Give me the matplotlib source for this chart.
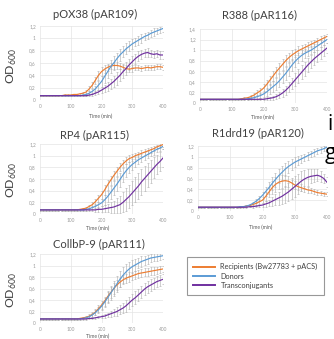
import matplotlib
matplotlib.use("Agg")
import matplotlib.pyplot as plt
from matplotlib.lines import Line2D

# ---------------- data ----------------
TIME_MIN = list(range(0, 401, 10))
X_TICKS = [0, 100, 200, 300, 400]

PANEL_TITLES = ["pOX38 (pAR109)", "R388 (pAR116)", "RP4 (pAR115)",
                "R1drd19 (pAR120)", "CollbP-9 (pAR111)"]
Y_MAX = [1.2, 1.4, 1.2, 1.2, 1.2]
SERIES_NAMES = ["Recipients (Bw27783 + pACS)", "Donors", "Transconjugants"]

# pOX38
p1_rec = [0.07, 0.07, 0.07, 0.07, 0.07, 0.07, 0.07, 0.07, 0.08, 0.08, 0.08,
          0.09, 0.09, 0.10, 0.11, 0.13, 0.18, 0.24, 0.32, 0.40, 0.46,
          0.50, 0.53, 0.55, 0.56, 0.56, 0.55, 0.53, 0.51, 0.50, 0.51,
          0.52, 0.52, 0.51, 0.52, 0.53, 0.52, 0.53, 0.54, 0.54, 0.53]
p1_don = [0.07, 0.07, 0.07, 0.07, 0.07, 0.07, 0.07, 0.07, 0.07, 0.07, 0.07,
          0.07, 0.07, 0.07, 0.08, 0.09, 0.11, 0.14, 0.18, 0.24, 0.30,
          0.38, 0.46, 0.54, 0.60, 0.67, 0.73, 0.78, 0.83, 0.87, 0.91,
          0.94, 0.97, 1.00, 1.03, 1.05, 1.08, 1.10, 1.12, 1.14, 1.16]
p1_trc = [0.07, 0.07, 0.07, 0.07, 0.07, 0.07, 0.07, 0.07, 0.07, 0.07, 0.07,
          0.07, 0.07, 0.07, 0.07, 0.07, 0.08, 0.09, 0.11, 0.13, 0.16,
          0.19, 0.22, 0.26, 0.30, 0.35, 0.40, 0.46, 0.51, 0.57, 0.62,
          0.67, 0.71, 0.74, 0.76, 0.77, 0.75, 0.74, 0.75, 0.73, 0.73]
p1_rec_err = [0.01, 0.01, 0.01, 0.01, 0.01, 0.01, 0.01, 0.01, 0.01, 0.01, 0.01,
              0.01, 0.01, 0.02, 0.02, 0.03, 0.04, 0.05, 0.06, 0.07, 0.07,
              0.06, 0.06, 0.05, 0.05, 0.05, 0.05, 0.05, 0.05, 0.05, 0.05,
              0.04, 0.04, 0.04, 0.04, 0.04, 0.04, 0.04, 0.04, 0.04, 0.04]
p1_don_err = [0.01, 0.01, 0.01, 0.01, 0.01, 0.01, 0.01, 0.01, 0.01, 0.01, 0.01,
              0.01, 0.01, 0.01, 0.02, 0.02, 0.03, 0.04, 0.05, 0.07, 0.09,
              0.10, 0.11, 0.11, 0.11, 0.10, 0.10, 0.09, 0.09, 0.08, 0.08,
              0.07, 0.07, 0.07, 0.06, 0.06, 0.06, 0.06, 0.05, 0.05, 0.05]
p1_trc_err = [0.01, 0.01, 0.01, 0.01, 0.01, 0.01, 0.01, 0.01, 0.01, 0.01, 0.01,
              0.01, 0.01, 0.01, 0.01, 0.01, 0.02, 0.02, 0.03, 0.04, 0.05,
              0.06, 0.07, 0.08, 0.09, 0.10, 0.10, 0.10, 0.10, 0.09, 0.09,
              0.08, 0.08, 0.07, 0.07, 0.07, 0.06, 0.06, 0.06, 0.06, 0.06]

# R388
p2_rec = [0.07, 0.07, 0.07, 0.07, 0.07, 0.07, 0.07, 0.07, 0.07, 0.07, 0.07,
          0.07, 0.07, 0.08, 0.09, 0.10, 0.12, 0.15, 0.19, 0.23, 0.28,
          0.35, 0.43, 0.51, 0.59, 0.66, 0.73, 0.80, 0.86, 0.91, 0.95,
          0.99, 1.02, 1.05, 1.08, 1.11, 1.14, 1.17, 1.20, 1.23, 1.26]
p2_don = [0.07, 0.07, 0.07, 0.07, 0.07, 0.07, 0.07, 0.07, 0.07, 0.07, 0.07,
          0.07, 0.07, 0.07, 0.07, 0.08, 0.09, 0.10, 0.12, 0.14, 0.17,
          0.21, 0.26, 0.31, 0.36, 0.42, 0.49, 0.56, 0.64, 0.72, 0.79,
          0.85, 0.90, 0.94, 0.97, 1.00, 1.04, 1.08, 1.12, 1.16, 1.20]
p2_trc = [0.07, 0.07, 0.07, 0.07, 0.07, 0.07, 0.07, 0.07, 0.07, 0.07, 0.07,
          0.07, 0.07, 0.07, 0.07, 0.07, 0.07, 0.07, 0.07, 0.07, 0.07,
          0.08, 0.09, 0.10, 0.12, 0.15, 0.19, 0.24, 0.30, 0.37, 0.44,
          0.51, 0.58, 0.65, 0.72, 0.78, 0.84, 0.89, 0.94, 0.99, 1.04]
p2_rec_err = [0.01, 0.01, 0.01, 0.01, 0.01, 0.01, 0.01, 0.01, 0.01, 0.01, 0.01,
              0.01, 0.01, 0.01, 0.02, 0.02, 0.03, 0.04, 0.05, 0.06, 0.07,
              0.08, 0.09, 0.10, 0.10, 0.10, 0.10, 0.10, 0.09, 0.09, 0.08,
              0.08, 0.07, 0.07, 0.07, 0.06, 0.06, 0.06, 0.06, 0.05, 0.05]
p2_don_err = [0.01, 0.01, 0.01, 0.01, 0.01, 0.01, 0.01, 0.01, 0.01, 0.01, 0.01,
              0.01, 0.01, 0.01, 0.01, 0.02, 0.02, 0.03, 0.04, 0.05, 0.06,
              0.08, 0.09, 0.10, 0.11, 0.12, 0.12, 0.12, 0.12, 0.11, 0.11,
              0.10, 0.10, 0.09, 0.09, 0.08, 0.08, 0.08, 0.07, 0.07, 0.07]
p2_trc_err = [0.01, 0.01, 0.01, 0.01, 0.01, 0.01, 0.01, 0.01, 0.01, 0.01, 0.01,
              0.01, 0.01, 0.01, 0.01, 0.01, 0.01, 0.01, 0.01, 0.02, 0.02,
              0.03, 0.03, 0.04, 0.05, 0.06, 0.07, 0.09, 0.10, 0.11, 0.12,
              0.13, 0.13, 0.13, 0.13, 0.12, 0.12, 0.11, 0.11, 0.10, 0.10]

# RP4
p3_rec = [0.07, 0.07, 0.07, 0.07, 0.07, 0.07, 0.07, 0.07, 0.07, 0.07, 0.07,
          0.07, 0.07, 0.08, 0.09, 0.10, 0.13, 0.16, 0.21, 0.27, 0.33,
          0.41, 0.50, 0.58, 0.66, 0.73, 0.80, 0.86, 0.91, 0.95, 0.97,
          1.00, 1.02, 1.04, 1.06, 1.08, 1.10, 1.12, 1.15, 1.17, 1.19]
p3_don = [0.07, 0.07, 0.07, 0.07, 0.07, 0.07, 0.07, 0.07, 0.07, 0.07, 0.07,
          0.07, 0.07, 0.07, 0.07, 0.08, 0.09, 0.11, 0.13, 0.16, 0.19,
          0.24, 0.30, 0.37, 0.44, 0.51, 0.59, 0.67, 0.74, 0.80, 0.85,
          0.89, 0.93, 0.96, 0.99, 1.02, 1.05, 1.08, 1.11, 1.13, 1.16]
p3_trc = [0.07, 0.07, 0.07, 0.07, 0.07, 0.07, 0.07, 0.07, 0.07, 0.07, 0.07,
          0.07, 0.07, 0.07, 0.07, 0.07, 0.07, 0.07, 0.07, 0.08, 0.08,
          0.09, 0.10, 0.11, 0.12, 0.14, 0.16, 0.20, 0.25, 0.30, 0.36,
          0.42, 0.48, 0.55, 0.61, 0.67, 0.73, 0.79, 0.85, 0.90, 0.96]
p3_rec_err = [0.01, 0.01, 0.01, 0.01, 0.01, 0.01, 0.01, 0.01, 0.01, 0.01, 0.01,
              0.01, 0.01, 0.01, 0.02, 0.02, 0.03, 0.04, 0.05, 0.06, 0.07,
              0.08, 0.08, 0.08, 0.08, 0.07, 0.07, 0.06, 0.06, 0.06, 0.06,
              0.05, 0.05, 0.05, 0.05, 0.05, 0.05, 0.04, 0.04, 0.04, 0.04]
p3_don_err = [0.01, 0.01, 0.01, 0.01, 0.01, 0.01, 0.01, 0.01, 0.01, 0.01, 0.01,
              0.01, 0.01, 0.01, 0.01, 0.02, 0.02, 0.03, 0.04, 0.05, 0.06,
              0.08, 0.10, 0.11, 0.12, 0.12, 0.12, 0.12, 0.11, 0.10, 0.09,
              0.08, 0.08, 0.07, 0.07, 0.06, 0.06, 0.06, 0.05, 0.05, 0.05]
p3_trc_err = [0.01, 0.01, 0.01, 0.01, 0.01, 0.01, 0.01, 0.01, 0.01, 0.01, 0.01,
              0.01, 0.01, 0.01, 0.01, 0.01, 0.02, 0.02, 0.03, 0.04, 0.05,
              0.06, 0.07, 0.09, 0.11, 0.13, 0.15, 0.17, 0.19, 0.20, 0.21,
              0.22, 0.22, 0.22, 0.21, 0.20, 0.19, 0.18, 0.17, 0.16, 0.15]

# R1drd19
p4_rec = [0.07, 0.07, 0.07, 0.07, 0.07, 0.07, 0.07, 0.07, 0.07, 0.07, 0.07,
          0.07, 0.07, 0.07, 0.08, 0.09, 0.10, 0.12, 0.14, 0.17, 0.20,
          0.27, 0.35, 0.43, 0.49, 0.53, 0.55, 0.56, 0.55, 0.52, 0.48,
          0.45, 0.43, 0.41, 0.39, 0.38, 0.36, 0.34, 0.33, 0.32, 0.31]
p4_don = [0.07, 0.07, 0.07, 0.07, 0.07, 0.07, 0.07, 0.07, 0.07, 0.07, 0.07,
          0.07, 0.07, 0.08, 0.08, 0.09, 0.11, 0.14, 0.18, 0.23, 0.29,
          0.36, 0.43, 0.51, 0.58, 0.65, 0.71, 0.77, 0.82, 0.86, 0.90,
          0.93, 0.96, 0.99, 1.02, 1.05, 1.08, 1.11, 1.13, 1.15, 1.18]
p4_trc = [0.07, 0.07, 0.07, 0.07, 0.07, 0.07, 0.07, 0.07, 0.07, 0.07, 0.07,
          0.07, 0.07, 0.07, 0.07, 0.07, 0.08, 0.08, 0.09, 0.10, 0.11,
          0.13, 0.15, 0.18, 0.21, 0.24, 0.27, 0.31, 0.35, 0.40, 0.45,
          0.50, 0.55, 0.59, 0.62, 0.64, 0.65, 0.66, 0.64, 0.60, 0.53]
p4_rec_err = [0.01, 0.01, 0.01, 0.01, 0.01, 0.01, 0.01, 0.01, 0.01, 0.01, 0.01,
              0.01, 0.01, 0.01, 0.01, 0.02, 0.02, 0.03, 0.04, 0.05, 0.06,
              0.08, 0.10, 0.12, 0.13, 0.13, 0.12, 0.11, 0.10, 0.09, 0.08,
              0.07, 0.06, 0.06, 0.05, 0.05, 0.05, 0.04, 0.04, 0.04, 0.04]
p4_don_err = [0.01, 0.01, 0.01, 0.01, 0.01, 0.01, 0.01, 0.01, 0.01, 0.01, 0.01,
              0.01, 0.01, 0.01, 0.01, 0.02, 0.02, 0.03, 0.04, 0.05, 0.07,
              0.09, 0.11, 0.12, 0.13, 0.13, 0.13, 0.12, 0.11, 0.10, 0.09,
              0.08, 0.08, 0.07, 0.07, 0.06, 0.06, 0.06, 0.05, 0.05, 0.05]
p4_trc_err = [0.01, 0.01, 0.01, 0.01, 0.01, 0.01, 0.01, 0.01, 0.01, 0.01, 0.01,
              0.01, 0.01, 0.01, 0.01, 0.01, 0.01, 0.02, 0.02, 0.03, 0.04,
              0.05, 0.06, 0.08, 0.10, 0.12, 0.14, 0.16, 0.17, 0.18, 0.19,
              0.19, 0.18, 0.17, 0.15, 0.13, 0.12, 0.11, 0.10, 0.09, 0.09]

# CollbP-9
p5_rec = [0.07, 0.07, 0.07, 0.07, 0.07, 0.07, 0.07, 0.07, 0.07, 0.07, 0.07,
          0.07, 0.07, 0.08, 0.09, 0.10, 0.12, 0.15, 0.19, 0.25, 0.31,
          0.38, 0.46, 0.53, 0.60, 0.66, 0.71, 0.75, 0.78, 0.80, 0.82,
          0.84, 0.86, 0.87, 0.88, 0.89, 0.90, 0.91, 0.92, 0.93, 0.94]
p5_don = [0.07, 0.07, 0.07, 0.07, 0.07, 0.07, 0.07, 0.07, 0.07, 0.07, 0.07,
          0.07, 0.07, 0.07, 0.08, 0.09, 0.11, 0.14, 0.18, 0.23, 0.29,
          0.36, 0.44, 0.52, 0.60, 0.68, 0.76, 0.83, 0.89, 0.94, 0.98,
          1.01, 1.04, 1.07, 1.09, 1.11, 1.13, 1.14, 1.15, 1.16, 1.17]
p5_trc = [0.07, 0.07, 0.07, 0.07, 0.07, 0.07, 0.07, 0.07, 0.07, 0.07, 0.07,
          0.07, 0.07, 0.07, 0.07, 0.07, 0.08, 0.08, 0.09, 0.10, 0.11,
          0.12, 0.14, 0.16, 0.18, 0.20, 0.23, 0.26, 0.30, 0.35, 0.40,
          0.44, 0.49, 0.54, 0.59, 0.63, 0.66, 0.69, 0.72, 0.74, 0.76]
p5_rec_err = [0.01, 0.01, 0.01, 0.01, 0.01, 0.01, 0.01, 0.01, 0.01, 0.01, 0.01,
              0.01, 0.01, 0.01, 0.02, 0.02, 0.03, 0.04, 0.05, 0.06, 0.07,
              0.08, 0.09, 0.09, 0.09, 0.09, 0.08, 0.08, 0.08, 0.08, 0.07,
              0.07, 0.07, 0.07, 0.07, 0.07, 0.07, 0.07, 0.06, 0.06, 0.06]
p5_don_err = [0.01, 0.01, 0.01, 0.01, 0.01, 0.01, 0.01, 0.01, 0.01, 0.01, 0.01,
              0.01, 0.01, 0.01, 0.01, 0.02, 0.02, 0.03, 0.04, 0.05, 0.06,
              0.08, 0.10, 0.12, 0.13, 0.14, 0.14, 0.14, 0.13, 0.12, 0.11,
              0.10, 0.09, 0.09, 0.08, 0.08, 0.07, 0.07, 0.07, 0.06, 0.06]
p5_trc_err = [0.01, 0.01, 0.01, 0.01, 0.01, 0.01, 0.01, 0.01, 0.01, 0.01, 0.01,
              0.01, 0.01, 0.01, 0.01, 0.01, 0.01, 0.01, 0.02, 0.02, 0.03,
              0.03, 0.04, 0.05, 0.06, 0.07, 0.08, 0.09, 0.10, 0.10, 0.11,
              0.11, 0.11, 0.11, 0.11, 0.10, 0.10, 0.10, 0.09, 0.09, 0.09]

PANELS = [
    (p1_rec, p1_don, p1_trc, p1_rec_err, p1_don_err, p1_trc_err),
    (p2_rec, p2_don, p2_trc, p2_rec_err, p2_don_err, p2_trc_err),
    (p3_rec, p3_don, p3_trc, p3_rec_err, p3_don_err, p3_trc_err),
    (p4_rec, p4_don, p4_trc, p4_rec_err, p4_don_err, p4_trc_err),
    (p5_rec, p5_don, p5_trc, p5_rec_err, p5_don_err, p5_trc_err),
]

# ---------------- layout / style ----------------
W, H = 334, 339
COLORS = ["#ED7D31", "#5B9BD5", "#7030A0"]
FONT = "Lato"

# axes boxes in pixels: left, top, right, bottom
BOXES = [(40, 26, 163, 100), (200, 29, 327, 103), (40, 144, 163, 214),
         (198, 146, 327, 211), (40, 254, 163, 323)]
TITLE_POS = [(95, 14), (259, 15), (94, 135), (258, 133), (99, 244)]
XLABEL_POS = [(101, 116), (263, 117), (98, 228), (261, 227), (98, 336)]
OD_POS = [(12, 66), (12, 180), (12, 290)]


def fx(px):
    return px / W


def fy(py):
    return 1 - py / H


def fmt_tick(v):
    s = ("%.1f" % v).rstrip("0").rstrip(".")
    return s.replace(".", ",")


fig = plt.figure(figsize=(W / 100, H / 100), dpi=100)
fig.patch.set_facecolor("white")

for i, (box, data) in enumerate(zip(BOXES, PANELS)):
    l, t, r, b = box
    ax = fig.add_axes([fx(l), fy(b), fx(r) - fx(l), fy(t) - fy(b)])
    means = data[:3]
    errs = data[3:]
    for m, e in zip(means, errs):
        ax.errorbar(TIME_MIN, m, yerr=e, fmt="none", ecolor="#B4B4B4",
                    elinewidth=0.45, capsize=0.9, capthick=0.45, zorder=2)
    for m, c in zip(means, COLORS):
        ax.plot(TIME_MIN, m, color=c, lw=0.85, zorder=3)
    ymax = Y_MAX[i]
    ax.set_xlim(0, 400)
    ax.set_ylim(0, ymax)
    yt = [k * 0.2 for k in range(int(round(ymax / 0.2)) + 1)]
    ax.set_yticks(yt)
    ax.set_yticklabels([fmt_tick(v) for v in yt])
    ax.set_xticks(X_TICKS)
    ax.set_xticklabels([str(v) for v in X_TICKS])
    ax.tick_params(length=0, labelsize=3.4, labelcolor="#9A9A9A", pad=3)
    for lab in ax.get_xticklabels() + ax.get_yticklabels():
        lab.set_family(FONT)
    ax.grid(True, color="#E4E4E4", lw=0.5)
    ax.set_axisbelow(True)
    for s in ax.spines.values():
        s.set_visible(False)
    ax.set_facecolor("white")

    tx, ty = TITLE_POS[i]
    fig.text(fx(tx), fy(ty), PANEL_TITLES[i], ha="center", va="center",
             fontsize=8, color="#404040", family=FONT)
    lx, ly = XLABEL_POS[i]
    fig.text(fx(lx), fy(ly), "Time (min)", ha="center", va="center",
             fontsize=3.6, color="#595959", family=FONT)

for ox, oy in OD_POS:
    fig.text(fx(ox), fy(oy), r"OD$_{\mathregular{600}}$", rotation=90,
             ha="center", va="center", fontsize=8.8, color="#404040",
             family=FONT)

# legend
handles = [Line2D([], [], color=c, lw=1.4) for c in COLORS]
leg = fig.legend(handles, SERIES_NAMES, loc="upper left",
                 bbox_to_anchor=(fx(187), fy(257)), frameon=True,
                 fancybox=False, prop={"family": FONT, "size": 5.3},
                 handlelength=2.9, handletextpad=0.8, labelspacing=0.3,
                 borderpad=0.85, borderaxespad=0)
leg.get_frame().set_edgecolor("#7F7F7F")
leg.get_frame().set_linewidth(0.8)
for txt in leg.get_texts():
    txt.set_color("#404040")

# cut-off text from the surrounding page
fig.text(fx(327), fy(125), "i", fontsize=15, color="black",
         ha="left", va="center", family="Open Sans")
fig.text(fx(325), fy(154), "g", fontsize=15, color="black",
         ha="left", va="center", family="Open Sans")

fig.savefig("out.png", dpi=100, facecolor="white")
